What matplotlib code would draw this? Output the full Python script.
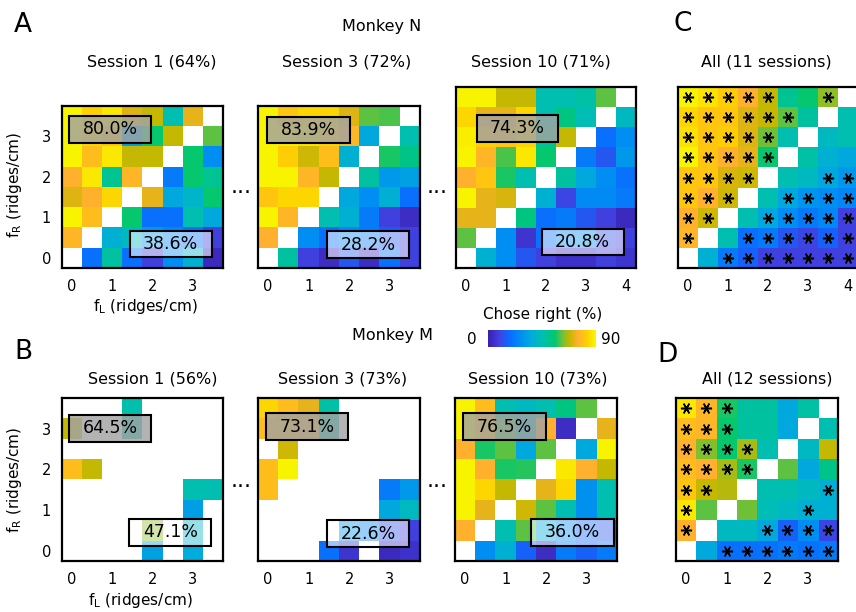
import numpy as np
import matplotlib
matplotlib.use('Agg')
from matplotlib import pyplot as plt
from matplotlib.colors import LinearSegmentedColormap
from matplotlib.patches import Rectangle

nan = np.nan

# chose-right percentages, rows from top (highest fR) to bottom (fR = 0)
n_s1 = [[89, 83, 87, 71, 68, 45, 72, nan],
        [89, 84, 80, 33, 56, 68, nan, 61],
        [89, 78, 87, 68, 68, nan, 56, 27],
        [75, 87, 50, 76, nan, 22, 56, 50],
        [71, 75, 84, nan, 72, 35, 40, 56],
        [89, 78, nan, 56, 19, 19, 45, 35],
        [76, nan, 38, 42, 30, 25, 20, 9],
        [nan, 19, 48, 19, 9, 27, 38, 3]]

n_s3 = [[89, 80, 84, 84, 71, 61, 60, nan],
        [89, 88, 87, 84, 76, 35, nan, 45],
        [89, 82, 69, 78, 38, nan, 57, 52],
        [89, 89, 76, 68, nan, 48, 30, 33],
        [80, 84, 84, nan, 35, 27, 38, 19],
        [89, 76, nan, 45, 38, 22, 9, 4],
        [75, nan, 27, 19, 25, 22, 14, 9],
        [nan, 48, 9, 4, 14, 4, 19, 9]]

n_s10 = [[89, 89, 68, 68, 45, 45, 47, 61, nan],
         [84, 72, 72, 84, 45, 53, 44, nan, 42],
         [88, 82, 80, 84, 50, 68, nan, 19, 27],
         [89, 76, 60, 87, 56, nan, 22, 14, 30],
         [75, 80, 57, 45, nan, 48, 35, 27, 20],
         [89, 72, 70, nan, 38, 10, 26, 26, 22],
         [72, 72, nan, 53, 19, 22, 14, 9, 3],
         [61, nan, 27, 6, 20, 25, 28, 12, 9],
         [nan, 38, 27, 14, 9, 5, 5, 9, 6]]

n_all = [[89, 86, 82, 75, 68, 50, 56, 64, nan],
         [84, 80, 80, 71, 68, 61, 48, nan, 45],
         [86, 80, 82, 71, 62, 45, nan, 42, 45],
         [89, 80, 75, 72, 56, nan, 47, 38, 35],
         [80, 80, 70, 69, nan, 45, 42, 35, 30],
         [80, 75, 69, nan, 45, 35, 29, 27, 25],
         [75, 69, nan, 45, 35, 27, 22, 25, 9],
         [76, nan, 45, 19, 22, 14, 10, 16, 9],
         [nan, 38, 22, 16, 9, 9, 9, 9, 9]]

n_all_stars = [[0, 1, 2, 3, 4, 7],
               [0, 1, 2, 3, 4, 5],
               [0, 1, 2, 3, 4],
               [0, 1, 2, 3, 4],
               [0, 1, 2, 3, 7, 8],
               [0, 1, 2, 5, 6, 7, 8],
               [0, 1, 4, 5, 6, 7, 8],
               [0, 3, 4, 5, 6, 7, 8],
               [2, 3, 4, 5, 6, 7, 8]]

m_s1 = [[nan, nan, nan, 46, nan, nan, nan, nan],
        [68, nan, nan, 46, nan, nan, nan, nan],
        [nan, nan, nan, nan, nan, nan, nan, nan],
        [78, 68, nan, nan, nan, nan, nan, nan],
        [nan, nan, nan, nan, nan, nan, 45, 45],
        [nan, nan, nan, nan, nan, nan, 32, nan],
        [nan, nan, nan, nan, 64, nan, 40, nan],
        [nan, nan, nan, nan, 33, nan, 36, nan]]

m_s3 = [[84, 78, 72, 47, nan, nan, nan, nan],
        [78, 78, 74, 46, nan, nan, nan, nan],
        [nan, 69, nan, nan, nan, nan, nan, nan],
        [78, 89, nan, nan, nan, nan, nan, nan],
        [78, nan, nan, nan, nan, nan, 22, 30],
        [nan, nan, nan, nan, nan, nan, 35, 42],
        [nan, nan, nan, nan, 30, 25, 12, 9],
        [nan, nan, nan, 19, 6, nan, 3, 5]]

m_s10 = [[89, 78, 45, 42, 45, 53, 61, nan],
         [89, 80, 60, 42, 75, 4, nan, 72],
         [75, 57, 61, 35, 61, nan, 35, 89],
         [89, 75, 57, 58, nan, 87, 75, 68],
         [89, 84, 68, nan, 72, 84, 28, 45],
         [89, 72, nan, 69, 61, 45, 28, 45],
         [75, nan, 45, 61, 35, 27, 18, 14],
         [nan, 27, 38, 16, 4, 22, 16, 22]]

m_all = [[87, 76, 57, 48, 48, 35, 47, nan],
         [78, 76, 56, 48, 48, 35, nan, 45],
         [75, 63, 56, 66, 45, nan, 42, 68],
         [78, 75, 66, 57, nan, 61, 35, 52],
         [80, 68, 67, nan, 45, 45, 42, 38],
         [87, 61, nan, 62, 44, 42, 38, 38],
         [75, nan, 42, 42, 35, 16, 27, 10],
         [nan, 35, 19, 19, 20, 22, 20, 22]]

m_all_stars = [[0, 1, 2],
               [0, 1, 2],
               [0, 1, 2, 3],
               [0, 1, 2, 3],
               [0, 1, 7],
               [0, 6],
               [0, 4, 5, 6, 7],
               [2, 3, 4, 5, 6, 7]]

n_titles = ['Session 1 (64%)', 'Session 3 (72%)', 'Session 10 (71%)', 'All (11 sessions)']
m_titles = ['Session 1 (56%)', 'Session 3 (73%)', 'Session 10 (73%)', 'All (12 sessions)']
n_hi = ['80.0%', '83.9%', '74.3%']
n_lo = ['38.6%', '28.2%', '20.8%']
m_hi = ['64.5%', '73.1%', '76.5%']
m_lo = ['47.1%', '22.6%', '36.0%']

cmap = LinearSegmentedColormap.from_list('chose', [
    (0.0, '#3a1fae'), (0.1, '#4141e0'), (0.2, '#0a6cff'), (0.3, '#008ff2'),
    (0.4, '#00acdc'), (0.5, '#00bfb2'), (0.62, '#00c870'), (0.70, '#80c030'),
    (0.76, '#c8b800'), (0.83, '#ffb030'), (0.92, '#ffd000'), (1.0, '#f8f800')])
cmap.set_bad('white')

W, H = 856, 612
fig = plt.figure(figsize=(W / 100, H / 100), dpi=100)


def px_axes(x0, y0, x1, y1):
    return fig.add_axes([x0 / W, 1 - y1 / H, (x1 - x0) / W, (y1 - y0) / H])


def px_text(x, y, s, **kw):
    kw.setdefault('ha', 'center')
    kw.setdefault('va', 'center')
    fig.text(x / W, 1 - y / H, s, **kw)


def pct_box(ax, cx, cy, text, face):
    w, h = 2.04, 0.66
    ax.add_patch(Rectangle((cx - w / 2, cy - h / 2), w, h, facecolor=face,
                           edgecolor='k', lw=1.5, zorder=3))
    ax.text(cx, cy, text, ha='center', va='center', fontsize=12.5, zorder=4)


def draw_map(ax, values, ylabels=False, hi=None, lo=None, stars=None):
    vals = np.array(values, dtype=float)
    n = vals.shape[0]
    top = n * 0.5 - 0.25
    ax.imshow(vals, cmap=cmap, vmin=0, vmax=90, origin='upper',
              extent=(-0.25, top, -0.25, top), aspect='auto',
              interpolation='nearest')
    ax.set_xlim(-0.25, top)
    ax.set_ylim(-0.25, top)
    ax.set_xticks(range(int(top) + 1))
    ax.set_yticks(range(4) if ylabels else [])
    ax.tick_params(length=0, labelsize=10.5, pad=8)
    for s in ax.spines.values():
        s.set_linewidth(1.6)
    if hi is not None:
        pct_box(ax, hi[0], hi[1], hi[2], (0.64, 0.64, 0.64, 0.82))
    if lo is not None:
        pct_box(ax, lo[0], lo[1], lo[2], (1, 1, 1, 0.6))
    if stars is not None:
        xs, ys = [], []
        for r, cols in enumerate(stars):
            for c in cols:
                xs.append(c * 0.5)
                ys.append((n - 1 - r) * 0.5)
        ax.plot(xs, ys, ls='none', marker=(6, 2, 90), ms=8, mew=1.1,
                color='k')


# Monkey N
ax = px_axes(62, 106, 223, 268)
draw_map(ax, n_s1, True, (0.95, 3.17, n_hi[0]), (2.45, 0.34, n_lo[0]))
ax = px_axes(258, 106, 420, 268)
draw_map(ax, n_s3, False, (1.0, 3.16, n_hi[1]), (2.47, 0.33, n_lo[1]))
ax = px_axes(456, 87, 636, 268)
draw_map(ax, n_s10, False, (1.29, 3.22, n_hi[2]), (2.92, 0.40, n_lo[2]))
ax = px_axes(678, 87, 858, 268)
draw_map(ax, n_all, stars=n_all_stars)

# Monkey M
ax = px_axes(62, 398, 223, 561)
draw_map(ax, m_s1, True, (0.94, 3.01, m_hi[0]), (2.44, 0.45, m_lo[0]))
ax = px_axes(258, 398, 420, 561)
draw_map(ax, m_s3, False, (0.96, 3.05, m_hi[1]), (2.47, 0.42, m_lo[1]))
ax = px_axes(455, 398, 617, 561)
draw_map(ax, m_s10, False, (0.97, 3.04, m_hi[2]), (2.65, 0.45, m_lo[2]))
ax = px_axes(676, 398, 838, 561)
draw_map(ax, m_all, stars=m_all_stars)

# colorbar
cax = px_axes(488, 330, 595, 347)
cax.imshow(np.linspace(0, 90, 256)[None, :], cmap=cmap, vmin=0, vmax=90,
           aspect='auto', extent=(0, 90, 0, 1))
cax.set_axis_off()
px_text(543, 315, 'Chose right (%)', fontsize=11)
px_text(472, 339, '0', fontsize=11)
px_text(611, 339, '90', fontsize=11)

# titles and labels
for x, t in zip([152, 347, 541, 766], n_titles):
    px_text(x, 62, t, fontsize=11.5)
for x, t in zip([153, 343, 538, 767], m_titles):
    px_text(x, 379, t, fontsize=11.5)
px_text(382, 26, 'Monkey N', fontsize=11.5)
px_text(392, 335, 'Monkey M', fontsize=11.5)
for x, y, s in [(23, 25, 'A'), (23, 352, 'B'), (683, 24, 'C'), (668, 355, 'D')]:
    px_text(x, y, s, fontsize=19)
px_text(15, 185, r'f$_\mathrm{R}$ (ridges/cm)', fontsize=11, rotation=90)
px_text(15, 480, r'f$_\mathrm{R}$ (ridges/cm)', fontsize=11, rotation=90)
px_text(145, 307, r'f$_\mathrm{L}$ (ridges/cm)', fontsize=11)
px_text(140, 600, r'f$_\mathrm{L}$ (ridges/cm)', fontsize=11)
for x in [241, 437]:
    for y in [187, 481]:
        px_text(x, y, '...', fontsize=16)

fig.savefig('out.png', dpi=100)
